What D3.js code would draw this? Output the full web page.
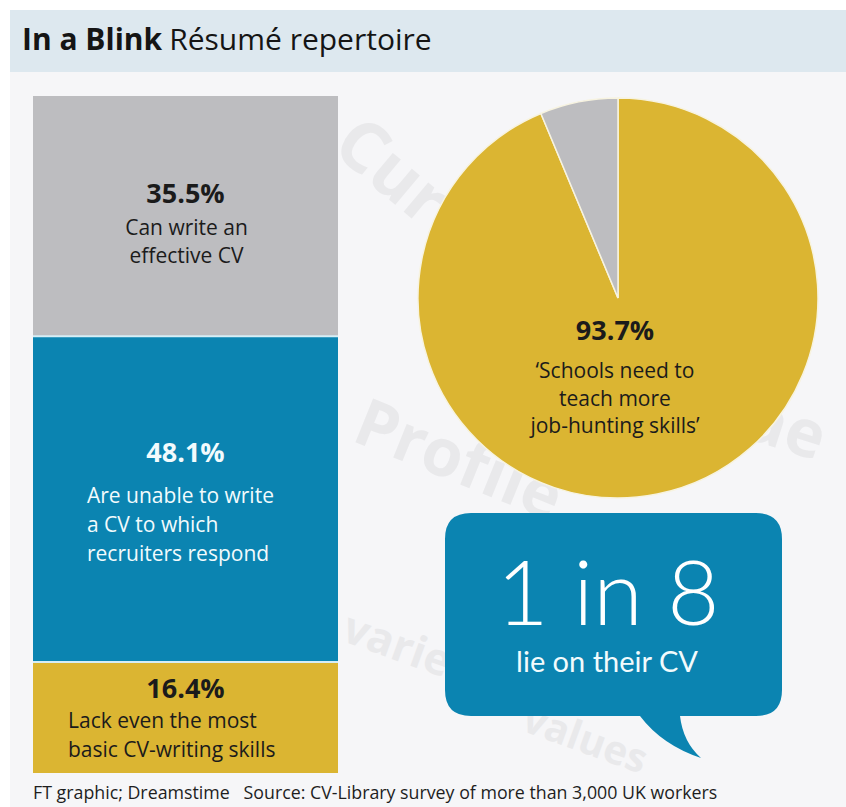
<!DOCTYPE html>
<html>
<head>
<meta charset="utf-8">
<script src="https://cdn.jsdelivr.net/npm/d3@7"></script>
<style>
  html, body { margin: 0; padding: 0; background: #ffffff; }
  svg { display: block; }
  text { font-family: "Open Sans", "Noto Sans", sans-serif; }
</style>
</head>
<body>
<script>
// ---- Data ----
const barCategories = ["Can write an effective CV", "Are unable to write a CV to which recruiters respond", "Lack even the most basic CV-writing skills"];
const barValues = [35.5, 48.1, 16.4];
const barLabelLines = [
  ["Can write an", "effective CV"],
  ["Are unable to write", "a CV to which", "recruiters respond"],
  ["Lack even the most", "basic CV-writing skills"]
];
const pieCategories = ["Schools need to teach more job-hunting skills", "Other"];
const pieValues = [93.7, 6.3];
const pieLabelLines = ["\u2018Schools need to", "teach more", "job-hunting skills\u2019"];
const bubbleBig = "1 in 8";
const bubbleSmall = "lie on their CV";
const titleBold = "In a Blink";
const titleRest = "R\u00e9sum\u00e9 repertoire";
const footerText = "FT graphic; Dreamstime   Source: CV-Library survey of more than 3,000 UK workers";

// ---- Style ----
const W = 846, H = 807;
const colGray = "#bdbdc0", colBlue = "#0b84b1", colYellow = "#dbb532";
const barColors = [colGray, colBlue, colYellow];
const barTextColors = ["#1b1b1b", "#f2fbfd", "#1b1b1b"];

const svg = d3.select("body").append("svg").attr("width", W).attr("height", H);

// background
svg.append("rect").attr("x", 0).attr("y", 0).attr("width", W).attr("height", H).attr("fill", "#ffffff");
svg.append("rect").attr("x", 10).attr("y", 72).attr("width", W - 10).attr("height", H - 72).attr("fill", "#f6f6f8");

// faint watermark words (background decoration)
const wm = svg.append("g").attr("fill", "#e9e9eb").attr("font-weight", 700);
[
  {t: "Curric", x: 330, y: 150, r: 40, s: 70},
  {t: "Profile", x: 350, y: 440, r: 22, s: 66},
  {t: "vitae", x: 660, y: 410, r: 18, s: 66},
  {t: "varied", x: 340, y: 640, r: 20, s: 44},
  {t: "values", x: 520, y: 730, r: 20, s: 40}
].forEach(d => {
  wm.append("text").attr("transform", `translate(${d.x},${d.y}) rotate(${d.r})`)
    .attr("font-size", d.s).text(d.t);
});

// header band
svg.append("rect").attr("x", 10).attr("y", 10).attr("width", W - 10).attr("height", 62).attr("fill", "#dde8ef");
const title = svg.append("text").attr("x", 22).attr("y", 50).attr("font-size", 30).attr("fill", "#151515");
title.append("tspan").attr("font-weight", 700).text(titleBold);
title.append("tspan").attr("font-weight", 400).attr("dx", 7).text(titleRest);

// ---- Stacked bar ----
const barX = 33, barW = 305;
const y = d3.scaleLinear().domain([0, 100]).range([96, 773]);
const stack = [];
let acc = 0;
barValues.forEach((v, i) => { stack.push({v, i, y0: acc, y1: acc + v}); acc += v; });

const bars = svg.append("g");
bars.selectAll("rect").data(stack).join("rect")
  .attr("x", barX).attr("width", barW)
  .attr("y", d => y(d.y0)).attr("height", d => y(d.y1) - y(d.y0))
  .attr("fill", d => barColors[d.i]);
// thin separators
bars.selectAll("line").data(stack.slice(1)).join("line")
  .attr("x1", barX).attr("x2", barX + barW)
  .attr("y1", d => y(d.y0)).attr("y2", d => y(d.y0))
  .attr("stroke", "#d6eef6").attr("stroke-width", 2);

// labels
const cx = barX + barW / 2;
const labelCfg = [
  {pctY: 203, lineY: 235, lh: 28, anchor: "middle", lx: cx + 1},
  {pctY: 462, lineY: 503, lh: 29, anchor: "start", lx: 87},
  {pctY: 698, lineY: 728, lh: 29, anchor: "start", lx: 68}
];
stack.forEach(d => {
  const c = labelCfg[d.i];
  svg.append("text").attr("x", cx).attr("y", c.pctY).attr("text-anchor", "middle")
    .attr("font-size", 27).attr("font-weight", 700).attr("fill", barTextColors[d.i])
    .text(d3.format(".1f")(d.v) + "%");
  barLabelLines[d.i].forEach((ln, k) => {
    svg.append("text").attr("x", c.lx).attr("y", c.lineY + k * c.lh).attr("text-anchor", c.anchor)
      .attr("font-size", 21).attr("fill", barTextColors[d.i]).text(ln);
  });
});

// ---- Pie ----
const pcx = 618, pcy = 298, pr = 200;
const pie = d3.pie().sort(null).value(d => d);
const arc = d3.arc().innerRadius(0).outerRadius(pr);
const pg = svg.append("g").attr("transform", `translate(${pcx},${pcy})`);
pg.selectAll("path").data(pie(pieValues)).join("path")
  .attr("d", arc)
  .attr("fill", (d, i) => i === 0 ? colYellow : colGray)
  .attr("stroke", "#f7f3e0").attr("stroke-width", 1.5);

svg.append("text").attr("x", 615).attr("y", 340).attr("text-anchor", "middle")
  .attr("font-size", 27).attr("font-weight", 700).attr("fill", "#1b1b1b")
  .text(d3.format(".1f")(pieValues[0]) + "%");
pieLabelLines.forEach((ln, k) => {
  svg.append("text").attr("x", 615).attr("y", 378 + k * 27.5).attr("text-anchor", "middle")
    .attr("font-size", 21).attr("fill", "#1b1b1b").text(ln);
});

// ---- Speech bubble ----
const bx0 = 445, bx1 = 782, by0 = 513, by1 = 716, rr = 26;
const bubble = d3.path();
bubble.moveTo(bx0 + rr, by0);
bubble.lineTo(bx1 - rr, by0);
bubble.quadraticCurveTo(bx1, by0, bx1, by0 + rr);
bubble.lineTo(bx1, by1 - rr);
bubble.quadraticCurveTo(bx1, by1, bx1 - rr, by1);
bubble.lineTo(680, by1);
bubble.quadraticCurveTo(683, 742, 701, 758);
bubble.quadraticCurveTo(662, 745, 640, by1);
bubble.lineTo(bx0 + rr, by1);
bubble.quadraticCurveTo(bx0, by1, bx0, by1 - rr);
bubble.lineTo(bx0, by0 + rr);
bubble.quadraticCurveTo(bx0, by0, bx0 + rr, by0);
bubble.closePath();
svg.append("path").attr("d", bubble.toString()).attr("fill", colBlue);

svg.append("text").attr("x", 608).attr("y", 625).attr("text-anchor", "middle")
  .style("font-family", "Lato, 'Open Sans', sans-serif")
  .attr("font-size", 90).attr("font-weight", 300).attr("fill", "#ffffff").text(bubbleBig);
svg.append("text").attr("x", 607).attr("y", 672).attr("text-anchor", "middle")
  .style("font-family", "Lato, 'Open Sans', sans-serif")
  .attr("font-size", 29).attr("font-weight", 400).attr("fill", "#f2fbfd").text(bubbleSmall);

// ---- Footer ----
svg.append("text").attr("x", 33).attr("y", 799).attr("font-size", 17.8).attr("fill", "#1e1e1e")
  .attr("xml:space", "preserve").style("white-space", "pre").text(footerText);
</script>
</body>
</html>
